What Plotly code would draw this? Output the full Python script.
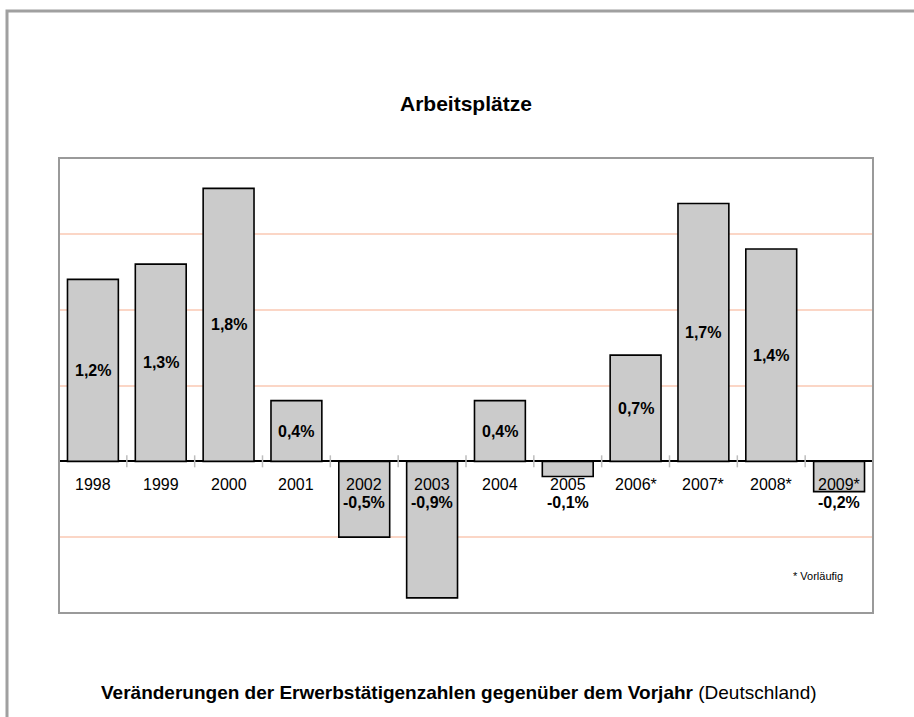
import plotly.graph_objects as go

years = ["1998", "1999", "2000", "2001", "2002", "2003", "2004", "2005", "2006*", "2007*", "2008*", "2009*"]
values = [1.2, 1.3, 1.8, 0.4, -0.5, -0.9, 0.4, -0.1, 0.7, 1.7, 1.4, -0.2]
value_labels = ["1,2%", "1,3%", "1,8%", "0,4%", "-0,5%", "-0,9%", "0,4%", "-0,1%", "0,7%", "1,7%", "1,4%", "-0,2%"]
title_text = "Arbeitsplätze"
note_text = "* Vorläufig"
caption_bold = "Veränderungen der Erwerbstätigenzahlen gegenüber dem Vorjahr"
caption_rest = " (Deutschland)"

FONT = "Liberation Sans, Arial, sans-serif"
W, H = 914, 717
L, R, T, B = 59, 41, 158, 104
pw, ph = W - L - R, H - T - B

def px_x(x):
    return (x - L) / pw

def px_y(y):
    return 1 - (y - T) / ph

fig = go.Figure()
fig.add_trace(go.Bar(
    x=list(range(len(years))), y=values,
    width=0.75,
    marker=dict(color="#cbcbcb", line=dict(color="#000000", width=1.6)),
    hoverinfo="skip", showlegend=False,
))

annotations = []
# year labels just below the zero line
for i, yr in enumerate(years):
    annotations.append(dict(x=i, y=0, xref="x", yref="y", text=yr, showarrow=False,
                            yanchor="middle", yshift=-23,
                            font=dict(family=FONT, size=16, color="#000")))
# value labels
for i, (v, lab) in enumerate(zip(values, value_labels)):
    if v < 0:
        yv, shift = 0, -41
    else:
        yv, shift = v / 2, 0
    annotations.append(dict(x=i, y=yv, xref="x", yref="y", text=f"<b>{lab}</b>", showarrow=False,
                            yanchor="middle", yshift=shift,
                            font=dict(family=FONT, size=16, color="#000")))

annotations.append(dict(x=px_x(466), y=px_y(103), xref="paper", yref="paper",
                        text=f"<b>{title_text}</b>", showarrow=False, xanchor="center", yanchor="middle",
                        font=dict(family=FONT, size=21, color="#000")))
annotations.append(dict(x=px_x(818), y=px_y(576), xref="paper", yref="paper",
                        text=note_text, showarrow=False, xanchor="center", yanchor="middle",
                        font=dict(family=FONT, size=11, color="#000")))
annotations.append(dict(x=px_x(459), y=px_y(692), xref="paper", yref="paper",
                        text=f"<b>{caption_bold}</b>{caption_rest}", showarrow=False,
                        xanchor="center", yanchor="middle",
                        font=dict(family=FONT, size=19, color="#000")))

shapes = []
# category boundary ticks crossing the zero line
for i in range(len(years) - 1):
    shapes.append(dict(type="line", xref="x", yref="y", x0=i + 0.5, x1=i + 0.5,
                       ysizemode="pixel", yanchor=0, y0=-6, y1=6,
                       line=dict(color="#bdbdbd", width=1.5)))
# plot area border
shapes.append(dict(type="rect", xref="paper", yref="paper", x0=0, x1=1, y0=0, y1=1,
                   line=dict(color="#9a9a9a", width=2), layer="above"))
# outer frame
shapes.append(dict(type="rect", xref="paper", yref="paper",
                   x0=px_x(7), x1=px_x(930), y0=px_y(740), y1=px_y(11),
                   line=dict(color="#a0a0a0", width=3), layer="above"))

fig.update_layout(
    width=W, height=H,
    margin=dict(l=L, r=R, t=T, b=B),
    paper_bgcolor="#ffffff", plot_bgcolor="#ffffff",
    xaxis=dict(range=[-0.5, len(years) - 0.5], showticklabels=False, showgrid=False,
               zeroline=False, showline=False, ticks=""),
    yaxis=dict(range=[-1, 2], dtick=0.5, showticklabels=False, showgrid=True,
               gridcolor="#fbd6c6", gridwidth=2, zeroline=True, zerolinecolor="#000000",
               zerolinewidth=1.5, showline=False, ticks=""),
    annotations=annotations, shapes=shapes,
    bargap=0.25,
)

fig.write_html("out.html", config={"displayModeBar": False},
               post_script="document.body.style.margin='0';document.body.style.overflow='hidden';")
